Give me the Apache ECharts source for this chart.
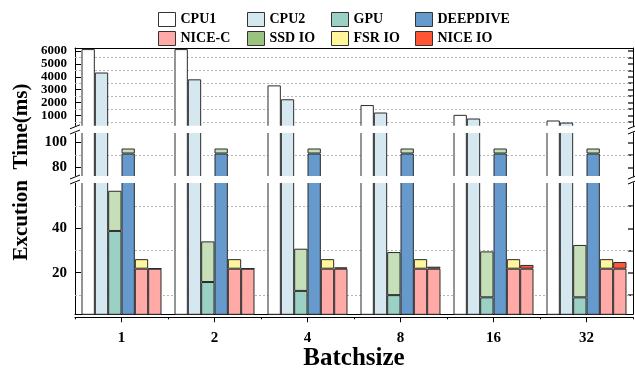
<!DOCTYPE html>
<html>
<head>
<meta charset="utf-8">
<script src="https://cdn.jsdelivr.net/npm/echarts@6/dist/echarts.min.js"></script>
<style>
  html, body { margin: 0; padding: 0; background: #fff; }
  #chart { width: 635px; height: 369px; }
</style>
</head>
<body>
<div id="chart"></div>
<script>
// Execution time per batch size, in ms
const batchSizes = ['1', '2', '4', '8', '16', '32'];
const cpu1 = [6150, 6150, 3330, 1800, 1040, 600];
const cpu2 = [4330, 3800, 2250, 1220, 755, 440];
const gpu = [38.8, 15.8, 11.8, 9.9, 8.9, 8.9];
const gpuSsdIo = [18.1, 18.3, 19.0, 19.4, 20.7, 23.6];
const deepdive = [91, 91, 91, 91, 91, 91];
const deepdiveSsdIo = [4, 4, 4, 4, 4, 4];
const niceC = [21.8, 21.8, 21.8, 21.8, 21.8, 21.8];
const fsrIo = [4.3, 4.3, 4.3, 4.3, 4.3, 4.3];
const niceIo = [0.1, 0.1, 0.6, 0.9, 1.7, 3.0];

// Tick values of the three segments of the broken value axis (top, middle, bottom)
const topTicks = [1000, 2000, 3000, 4000, 5000, 6000];
const topMinorTicks = [500, 1500, 2500, 3500, 4500, 5500];
const midTicks = [80, 100];
const midMinorTicks = [90];
const botTicks = [20, 40];
const botMinorTicks = [10, 30, 50];

// Layout of the broken axis
const plotLeft = 75;
const plotRightX = 633;
const segments = [
  { top: 48, height: 78.8, min: 110, max: 6236, ticks: topTicks, minor: topMinorTicks, labelSize: 13 },
  { top: 132, height: 45, min: 72.2, max: 108.2, ticks: midTicks, minor: midMinorTicks, labelSize: 15 },
  { top: 182, height: 132.3, min: 1.26, max: 60.85, ticks: botTicks, minor: botMinorTicks, labelSize: 15 }
];

const FONT = '"Liberation Serif", "Times New Roman", serif';
const colors = {
  cpu1: '#ffffff',
  cpu2: '#d5e8f0',
  gpu: '#9bd0c5',
  deepdive: '#6699cc',
  ssd: '#c5dfb8',
  niceC: '#ffaaa6',
  fsr: '#fff59a',
  niceIo: '#ff5838'
};

const grid = segments.map(s => ({
  left: plotLeft,
  right: 635 - plotRightX,
  top: s.top,
  height: s.height,
  containLabel: false,
  outerBoundsMode: 'none'
}));

const yAxis = [];
segments.forEach((s, i) => {
  // left axis: major ticks and labels
  yAxis.push({
    type: 'value', gridIndex: i, min: s.min, max: s.max,
    axisLine: { show: true, lineStyle: { color: '#000', width: 1 } },
    axisTick: { show: true, inside: true, length: 6, customValues: s.ticks, lineStyle: { color: '#000', width: 1 } },
    axisLabel: {
      show: true, customValues: s.ticks, margin: 8, hideOverlap: false,
      formatter: v => String(v),
      fontFamily: FONT, fontWeight: 'bold', fontSize: s.labelSize, lineHeight: 12, color: '#000'
    },
    splitLine: { show: false }
  });
  // left axis: minor ticks
  yAxis.push({
    type: 'value', gridIndex: i, min: s.min, max: s.max,
    axisLine: { show: false },
    axisTick: { show: true, inside: true, length: 3, customValues: s.minor, lineStyle: { color: '#000', width: 1 } },
    axisLabel: { show: false },
    splitLine: { show: false }
  });
  // right frame with ticks
  yAxis.push({
    type: 'value', gridIndex: i, min: s.min, max: s.max, position: 'right',
    axisLine: { show: true, lineStyle: { color: '#000', width: 1 } },
    axisTick: { show: true, inside: true, length: 5, customValues: s.ticks.concat(s.minor), lineStyle: { color: '#333', width: 1.5 } },
    axisLabel: { show: false },
    splitLine: { show: false }
  });
});

const xAxis = [
  { type: 'category', gridIndex: 0, data: batchSizes, position: 'top',
    axisLine: { show: true, onZero: false, lineStyle: { color: '#000' } },
    axisTick: { show: false }, axisLabel: { show: false } },
  { type: 'category', gridIndex: 1, data: batchSizes, show: false },
  { type: 'category', gridIndex: 2, data: batchSizes, position: 'bottom',
    axisLine: { show: true, onZero: false, lineStyle: { color: '#000' } },
    axisTick: { show: false }, axisLabel: { show: false } },
  // tick axis below the plot: short ticks between categories
  { type: 'category', gridIndex: 2, data: batchSizes, position: 'bottom', offset: 3,
    axisLine: { show: true, onZero: false, lineStyle: { color: '#000' } },
    axisTick: { show: true, length: 2, interval: 0, lineStyle: { color: '#000' } },
    axisLabel: { show: false } },
  // centred ticks, labels and axis name
  { type: 'category', gridIndex: 2, data: batchSizes, position: 'bottom', offset: 3,
    axisLine: { show: false, onZero: false },
    axisTick: { show: true, alignWithLabel: true, length: 5, interval: 0, lineStyle: { color: '#000' } },
    axisLabel: { show: true, interval: 0, margin: 13, fontFamily: FONT, fontWeight: 'bold', fontSize: 15, color: '#000' },
    name: 'Batchsize', nameLocation: 'middle', nameGap: 29,
    nameTextStyle: { fontFamily: FONT, fontWeight: 'bold', fontSize: 25, color: '#000' } }
];

const barBase = {
  type: 'bar',
  barGap: '0%',
  barCategoryGap: '14%',
  animation: false,
  itemStyle: { borderColor: '#2b2b2b', borderWidth: 1 },
  emphasis: { disabled: true }
};

function segmentSeries(i) {
  const ax = { xAxisIndex: i, yAxisIndex: i * 3 };
  const s = segments[i];
  return [
    { ...barBase, ...ax, name: 'CPU1', stack: 'cpu1_' + i, data: cpu1, color: colors.cpu1,
      markLine: {
        silent: true, symbol: 'none', z: 1, animation: false,
        label: { show: false },
        lineStyle: { color: '#b5b5b5', type: [2, 2], width: 1 },
        data: s.minor.map(v => ({ yAxis: v }))
      } },
    { ...barBase, ...ax, name: 'CPU2', stack: 'cpu2_' + i, data: cpu2, color: colors.cpu2 },
    { ...barBase, ...ax, name: 'GPU', stack: 'gpu_' + i, data: gpu, color: colors.gpu },
    { ...barBase, ...ax, name: 'SSD IO', stack: 'gpu_' + i, data: gpuSsdIo, color: colors.ssd },
    { ...barBase, ...ax, name: 'DEEPDIVE', stack: 'dd_' + i, data: deepdive, color: colors.deepdive },
    { ...barBase, ...ax, name: 'SSD IO', stack: 'dd_' + i, data: deepdiveSsdIo, color: colors.ssd },
    { ...barBase, ...ax, name: 'NICE-C', stack: 'nc1_' + i, data: niceC, color: colors.niceC },
    { ...barBase, ...ax, name: 'FSR IO', stack: 'nc1_' + i, data: fsrIo, color: colors.fsr },
    { ...barBase, ...ax, name: 'NICE-C', stack: 'nc2_' + i, data: niceC, color: colors.niceC },
    { ...barBase, ...ax, name: 'NICE IO', stack: 'nc2_' + i, data: niceIo, color: colors.niceIo }
  ];
}

const series = [].concat(segmentSeries(0), segmentSeries(1), segmentSeries(2));

const legendBase = {
  orient: 'vertical', top: 12, padding: 0, itemGap: 4,
  itemWidth: 17, itemHeight: 14, icon: 'rect',
  itemStyle: { borderColor: '#333', borderWidth: 1 },
  textStyle: { fontFamily: FONT, fontWeight: 'bold', fontSize: 14, color: '#000' }
};
const legend = [
  { ...legendBase, left: 158, data: ['CPU1', 'NICE-C'] },
  { ...legendBase, left: 247, data: ['CPU2', { name: 'SSD IO', itemStyle: { color: '#9cc27f' } }] },
  { ...legendBase, left: 331, data: ['GPU', { name: 'FSR IO', itemStyle: { color: '#fff799' } }] },
  { ...legendBase, left: 415, data: ['DEEPDIVE', { name: 'NICE IO', itemStyle: { color: '#ff5533' } }] }
];

// White bands for the gaps of the broken axis, with break marks on both frame edges
const graphic = [];
for (let i = 0; i < segments.length - 1; i++) {
  const yb = segments[i].top + segments[i].height;
  const yt = segments[i + 1].top;
  graphic.push({
    type: 'rect', silent: true, z: 100,
    shape: { x: plotLeft - 0.5, y: yb - 1, width: plotRightX - plotLeft + 1, height: yt - yb + 2 },
    style: { fill: '#fff' }
  });
  [plotLeft, plotRightX].forEach(x => {
    [yb, yt].forEach(y => {
      graphic.push({
        type: 'line', silent: true, z: 101,
        shape: { x1: x - 5, y1: y + 2, x2: x + 5, y2: y - 2 },
        style: { stroke: '#000', lineWidth: 1 }
      });
    });
  });
}
graphic.push({
  type: 'text', x: 22, y: 172, rotation: Math.PI / 2, silent: true,
  style: {
    text: 'Excution  Time(ms)',
    font: 'bold 21px ' + FONT,
    textAlign: 'center', textVerticalAlign: 'middle', fill: '#000'
  }
});

const chart = echarts.init(document.getElementById('chart'), null, { renderer: 'canvas' });
chart.setOption({
  backgroundColor: '#fff',
  animation: false,
  grid, xAxis, yAxis, series, legend, graphic
});
</script>
</body>
</html>
